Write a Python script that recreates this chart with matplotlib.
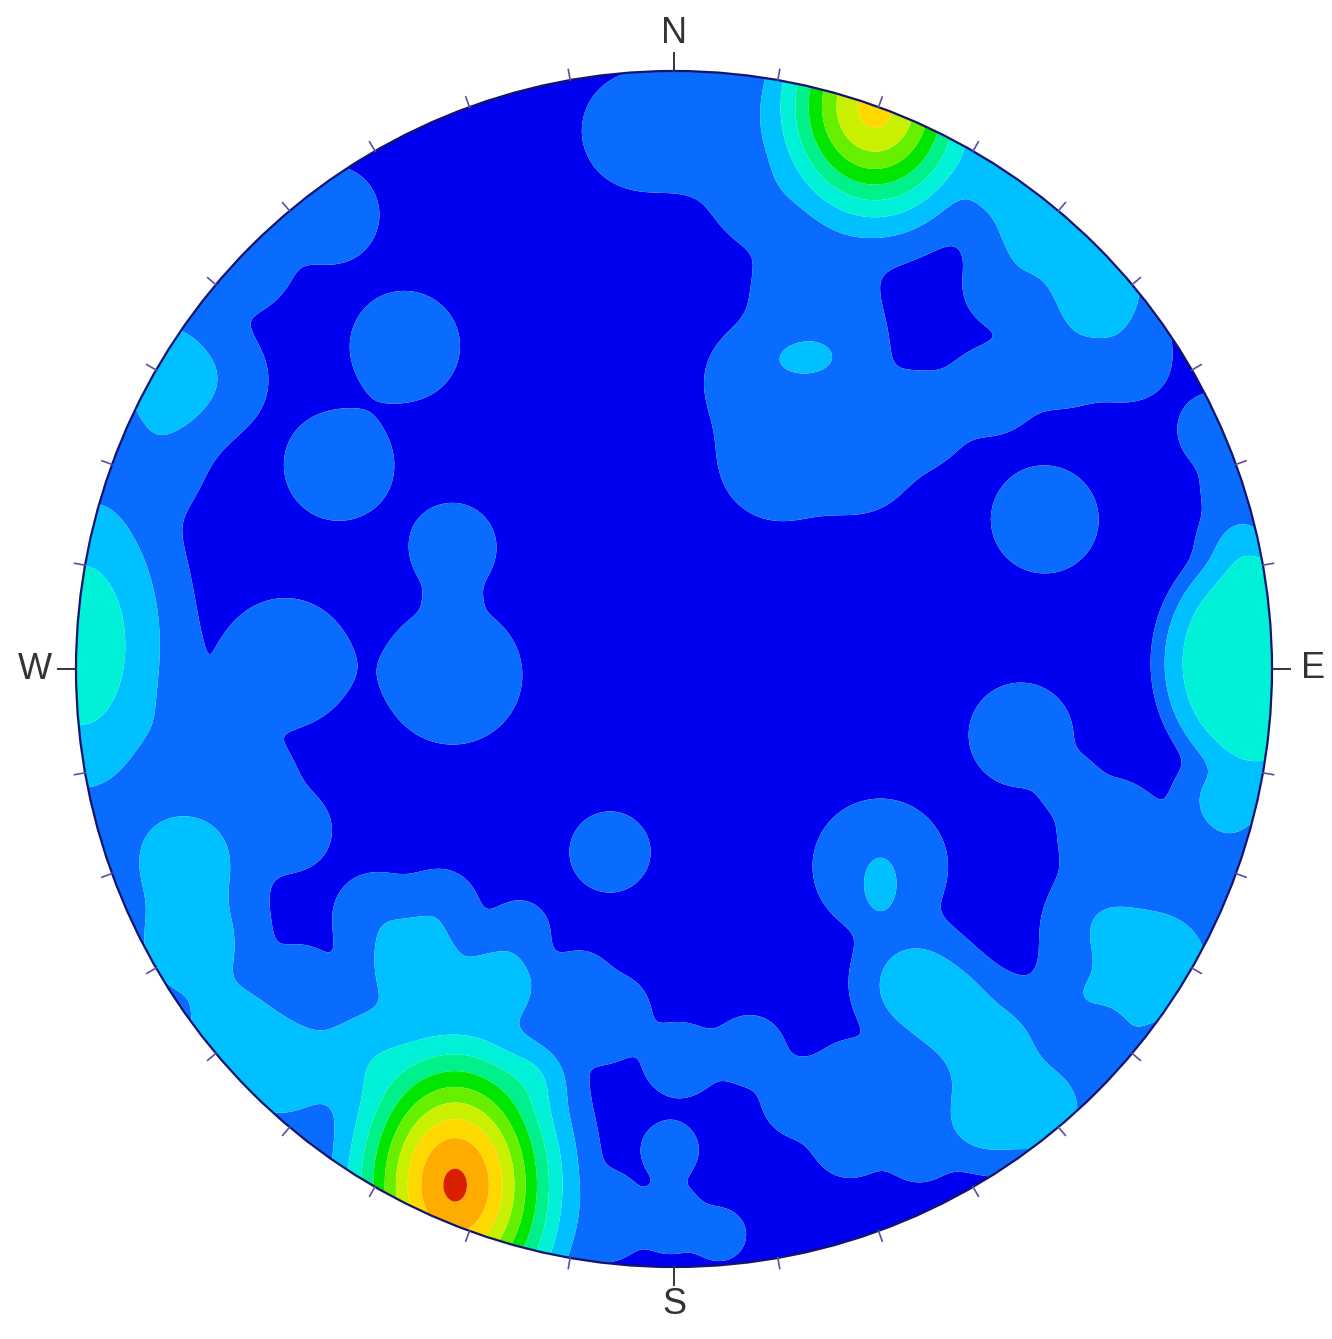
"""
Pole density stereonet (lower hemisphere, equal-area) - contoured density
"""

import numpy as np
import matplotlib
matplotlib.use("Agg")
import matplotlib.pyplot as plt
from matplotlib.patches import Circle

# pole clusters read off the net: projected position (unit circle, x=E, y=N),
# spread along x / y, weight, and kernel sharpness (1 = gaussian)
pole_x = [-0.45, -0.56, -0.37, -0.37, -0.37, -0.65, -0.107, 0.62, 0.58, 0.662,
          -0.057, 0.077, 0.144,
          0.23, 0.144, 0.177, 0.31, 0.41, 0.53, 0.26, 0.545, 0.22,
          0.336,
          0.62, 0.712, 0.545, 0.65, 0.763, 0.905, 0.946,
          0.99, 0.93, 0.95,
          0.73, 0.71, 0.805, 0.76, 0.68, 0.92,
          0.403, 0.46, 0.528, 0.612, 0.52,
          0.345, 0.345,
          0.01, 0.127, 0.21, 0.294, 0.41, -0.007, -0.007, -0.107, 0.077, -0.1,
          -0.124, -0.107, 0.294, 0.344,
          -0.366, -0.818, -0.81, -0.742,
          -0.432, -0.291, -0.66, -0.508, -0.24,
          -0.50, -0.39, -0.258, -0.157, -0.64, -0.70, -0.625,
          -0.99, -0.85, -0.768, -0.717, -0.575, -0.876, -0.818]
pole_y = [0.54, 0.34, 0.205, -0.01, 0.115, 0.01, -0.306, 0.25, -0.11, -0.194,
          0.90, 0.90, 0.784,
          0.64, 0.483, 0.35, 0.35, 0.416, 0.466, 0.533, 0.634, 0.52,
          0.941,
          0.745, 0.634, 0.834, 0.52, 0.517, 0.40, 0.30,
          0.01, -0.22, 0.20,
          -0.27, -0.42, -0.495, -0.64, -0.55, -0.336,
          -0.528, -0.57, -0.637, -0.737, -0.746,
          -0.33, -0.365,
          -0.654, -0.637, -0.72, -0.788, -0.80, -0.804, -0.92, -0.94, -0.946, -0.57,
          -0.605, -0.886, -0.68, -0.704,
          -0.863, -0.32, -0.462, -0.604,
          -0.495, -0.529, -0.669, -0.652, -0.687,
          -0.41, -0.395, -0.436, -0.52, -0.27, -0.19, -0.512,
          0.04, 0.487, 0.485, 0.676, 0.76, 0.333, -0.11]
spread_x = [0.095, 0.095, 0.075, 0.12, 0.035, 0.112, 0.07, 0.093, 0.09, 0.045,
            0.10, 0.11, 0.075,
            0.10, 0.095, 0.105, 0.09, 0.08, 0.075, 0.10, 0.06, 0.05,
            0.11,
            0.10, 0.09, 0.07, 0.085, 0.07, 0.065, 0.065,
            0.165, 0.07, 0.06,
            0.09, 0.08, 0.14, 0.07, 0.06, 0.06,
            0.08, 0.07, 0.09, 0.085, 0.07,
            0.11, 0.03,
            0.065, 0.06, 0.065, 0.065, 0.06, 0.05, 0.06, 0.05, 0.045, 0.06,
            0.055, 0.045, 0.06, 0.05,
            0.115, 0.10, 0.10, 0.08,
            0.09, 0.07, 0.10, 0.09, 0.06,
            0.07, 0.06, 0.05, 0.05, 0.07, 0.07, 0.05,
            0.12, 0.09, 0.09, 0.08, 0.085, 0.08, 0.07]
spread_y = [0.095, 0.095, 0.075, 0.12, 0.035, 0.112, 0.07, 0.093, 0.09, 0.045,
            0.10, 0.11, 0.075,
            0.10, 0.095, 0.105, 0.09, 0.08, 0.075, 0.10, 0.06, 0.03,
            0.13,
            0.10, 0.09, 0.07, 0.085, 0.07, 0.065, 0.065,
            0.19, 0.07, 0.06,
            0.09, 0.08, 0.14, 0.07, 0.06, 0.06,
            0.08, 0.07, 0.09, 0.085, 0.07,
            0.11, 0.05,
            0.065, 0.06, 0.065, 0.065, 0.06, 0.05, 0.06, 0.05, 0.045, 0.06,
            0.055, 0.045, 0.06, 0.05,
            0.16, 0.10, 0.10, 0.08,
            0.09, 0.07, 0.10, 0.09, 0.06,
            0.07, 0.06, 0.05, 0.05, 0.07, 0.07, 0.05,
            0.22, 0.12, 0.09, 0.08, 0.085, 0.08, 0.07]
weight = [1.6, 1.6, 1.6, 1.6, 1.6, 1.6, 1.6, 1.6, 1.6, 1.6,
          1.6, 1.6, 1.6,
          1.6, 1.6, 1.6, 1.6, 1.6, 1.6, 1.6, 1.6, 2.2,
          8.3,
          2.6, 2.6, 2.6, 1.6, 1.6, 1.6, 1.6,
          3.6, 2.6, 2.4,
          1.6, 1.6, 2.4, 1.6, 1.6, 1.6,
          2.6, 2.6, 2.6, 2.6, 2.6,
          1.7, 2.4,
          1.6, 1.6, 1.6, 1.6, 1.6, 1.6, 1.6, 1.6, 1.6, 1.6,
          1.6, 1.6, 1.6, 1.6,
          10.15, 2.6, 2.6, 2.6,
          2.6, 2.6, 2.6, 2.6, 2.6,
          1.6, 1.6, 1.6, 1.6, 1.6, 1.6, 1.6,
          3.6, 2.5, 1.6, 1.6, 1.6, 1.6, 1.6]
sharpness = [1] * 30 + [3] + [1] * 52

# contour intervals and fill colours (low -> high)
levels = [-1, 1, 2, 3, 4, 5, 6, 7, 8, 9, 10, 100]
colors = ['#0000f0', '#0a6cff', '#00c0ff', '#00f0d8', '#00f08c', '#00e600',
          '#66f000', '#c8f000', '#ffd800', '#ffac00', '#d82000']

directions = ['N', 'E', 'S', 'W']


def density_grid(n=700, m=3):
    g = np.linspace(-1.02, 1.02, n)
    X, Y = np.meshgrid(g, g)
    acc = np.zeros_like(X)
    for x0, y0, sx, sy, w, p in zip(pole_x, pole_y, spread_x, spread_y, weight, sharpness):
        q = (X - x0) ** 2 / sx ** 2 + (Y - y0) ** 2 / sy ** 2
        acc += (w * np.exp(-0.5 * q ** p)) ** m
    # soft maximum so neighbouring clusters merge smoothly
    return X, Y, acc ** (1.0 / m)


fig = plt.figure(figsize=(13.32, 13.39), dpi=100)
ax = fig.add_axes([0, 0, 1, 1])
ax.set_xlim(-674 / 598, (1332 - 674) / 598)
ax.set_ylim((669 - 1339) / 598, 669 / 598)
ax.axis('off')

X, Y, Z = density_grid()
rim = Circle((0, 0), 1.0, transform=ax.transData, facecolor='none')
ax.add_patch(rim)
cs = ax.contourf(X, Y, Z, levels=levels, colors=colors, antialiased=True)
cs.set_clip_path(rim)

ax.add_patch(Circle((0, 0), 1.0, facecolor='none', edgecolor='#14146e', lw=1.6, zorder=3))

# 10 degree ticks round the primitive
for b in range(0, 360, 10):
    s, c = np.sin(np.radians(b)), np.cos(np.radians(b))
    if b % 90 == 0:
        ax.plot([s, 1.03 * s], [c, 1.03 * c], color='#333344', lw=1.4, zorder=4)
    else:
        ax.plot([s, 1.018 * s], [c, 1.018 * c], color='#5b4fa0', lw=1.2, zorder=4)

for lab, b in zip(directions, [0, 90, 180, 270]):
    s, c = np.sin(np.radians(b)), np.cos(np.radians(b))
    ax.text(1.068 * s, 1.063 * c, lab, ha='center', va='center', fontsize=26,
            family='Liberation Sans', color='#333333')

plt.savefig('out.png', dpi=100)
plt.close()
